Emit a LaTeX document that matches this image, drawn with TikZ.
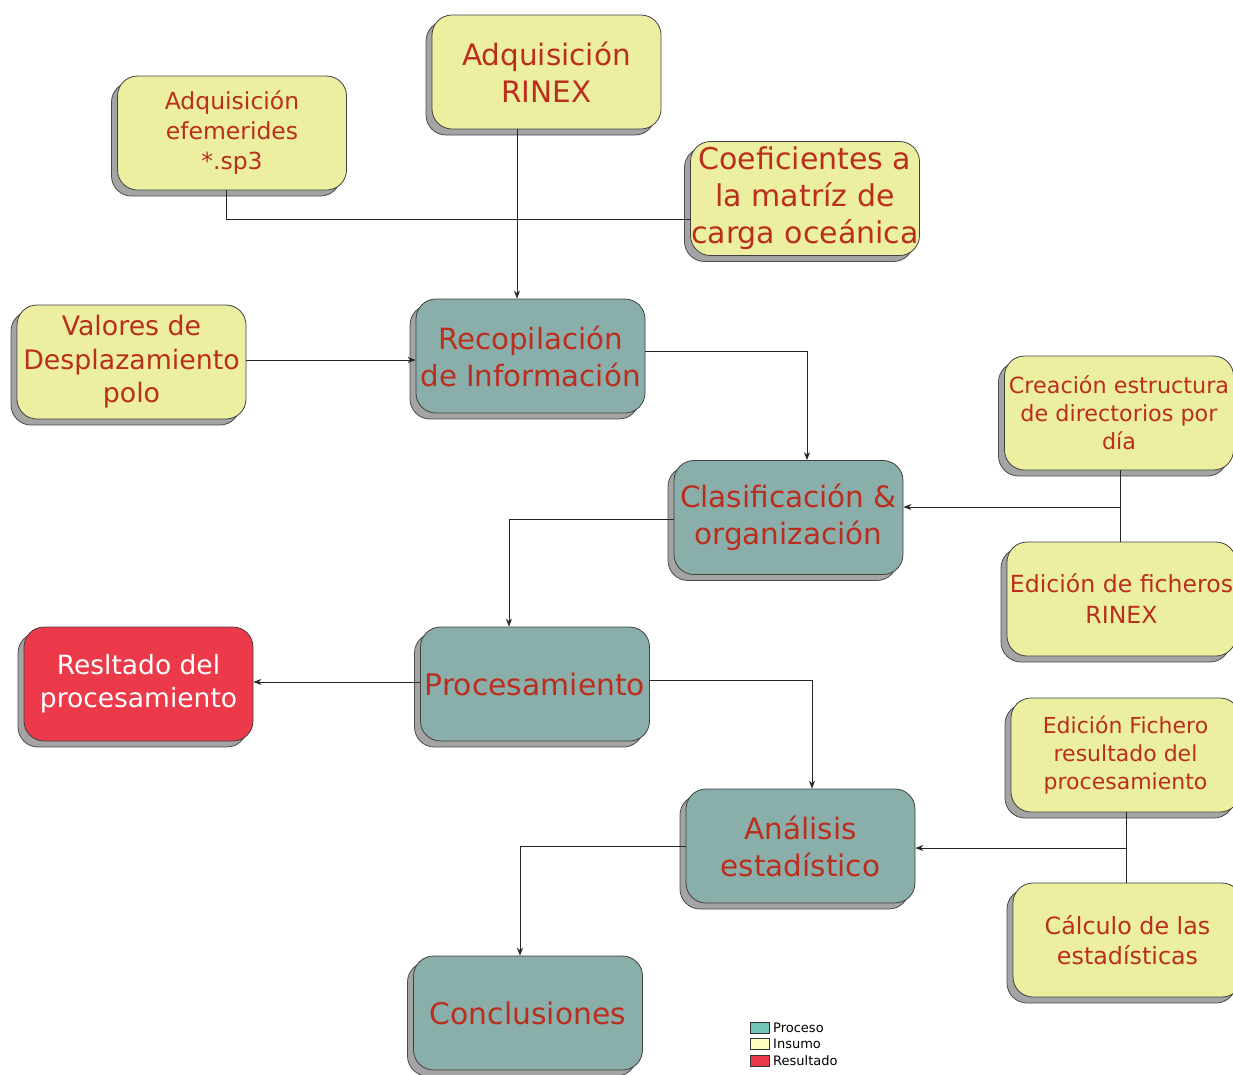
\documentclass[tikz,border=0pt]{standalone}
\usepackage{fontspec}
\setmainfont{DejaVu Sans}
\usetikzlibrary{shadows,arrows.meta}
\definecolor{insumo}{HTML}{ECEFA0}
\definecolor{proceso}{HTML}{8AAFAA}
\definecolor{resultado}{HTML}{EC3A4A}
\definecolor{txt}{HTML}{BA2E1E}
\definecolor{shadowgray}{HTML}{A4A4A4}
\definecolor{legproc}{HTML}{72C3B8}
\definecolor{legins}{HTML}{FFFFC2}
\begin{document}
\begin{tikzpicture}[x=1pt,y=-1pt,
  box/.style={rounded corners=20pt, draw=black!75, line width=0.8pt,
    minimum width=229pt, minimum height=114pt, inner sep=0pt, align=center,
    text=txt, copy shadow={shadow xshift=-6pt, shadow yshift=-6pt, fill=shadowgray, draw=black!70}},
  ins/.style={box, fill=insumo},
  proc/.style={box, fill=proceso},
  res/.style={box, fill=resultado, text=white},
  conn/.style={draw=black!85, line width=0.7pt},
  arr/.style={conn, -{Stealth[length=8pt,width=6pt]}},
  legbox/.style={draw=black!80, line width=0.6pt, minimum width=19pt, minimum height=11pt, inner sep=0pt},
  legtxt/.style={anchor=west, inner sep=0pt, font=\fontsize{13}{15}\selectfont}
]
\useasboundingbox (0,0) rectangle (1233,1074);

\node[ins, font=\fontsize{29.5}{37}\selectfont] (rinex) at (546.5,72) {Adquisición\\RINEX};
\node[ins, font=\fontsize{23.5}{30}\selectfont] (efem) at (232,133) {Adquisición\\efemerides\\*.sp3};
\node[ins, font=\fontsize{30}{37}\selectfont] (coef) at (805,198.5) {Coeficientes a\\la matríz de\\carga oceánica};
\node[ins, font=\fontsize{26.8}{33.5}\selectfont] (valores) at (131.5,362) {Valores de\\Desplazamiento\\polo};
\node[proc, font=\fontsize{29.3}{37}\selectfont] (recop) at (530.5,356) {Recopilación\\de Información};
\node[proc, font=\fontsize{29.5}{37}\selectfont] (clasif) at (788.5,517.5) {Clasificación \&\\organización};
\node[ins, font=\fontsize{22.3}{28}\selectfont] (creac) at (1119,413) {Creación estructura\\de directorios por\\día};
\node[ins, font=\fontsize{23.6}{31}\selectfont] (edric) at (1121.5,599) {Edición de ficheros\\RINEX};
\node[proc, font=\fontsize{29.8}{37}\selectfont] (procs) at (535,684) {Procesamiento};
\node[res, font=\fontsize{26.5}{33}\selectfont] (resl) at (138.5,684) {Resltado del\\procesamiento};
\node[ins, font=\fontsize{22}{28}\selectfont] (edfich) at (1125.5,755) {Edición Fichero\\resultado del\\procesamiento};
\node[proc, font=\fontsize{29.5}{37}\selectfont] (anal) at (800.5,846) {Análisis\\estadístico};
\node[ins, font=\fontsize{23.8}{30}\selectfont] (calc) at (1127.5,940) {Cálculo de las\\estadísticas};
\node[proc, font=\fontsize{29.8}{37}\selectfont] (concl) at (528,1013) {Conclusiones};

% connectors
\draw[arr] (rinex.south -| 517,0) -- (recop.north -| 517,0);
\draw[conn] (efem.south -| 226,0) |- (coef.west |- 0,219);
\draw[arr] (valores.east |- 0,360) -- (recop.west |- 0,360);
\draw[arr] (recop.east |- 0,351) -| (clasif.north -| 807,0);
\draw[conn] (creac.south -| 1120,0) -- (edric.north -| 1120,0);
\coordinate (j1) at (1120,507);
\draw[arr] (j1) -- (clasif.east |- j1);
\draw[arr] (clasif.west |- 0,519) -| (procs.north -| 509,0);
\draw[arr] (procs.west |- 0,682) -- (resl.east |- 0,682);
\draw[arr] (procs.east |- 0,680) -| (anal.north -| 812,0);
\draw[conn] (edfich.south -| 1126,0) -- (calc.north -| 1126,0);
\coordinate (j2) at (1126,848);
\draw[arr] (j2) -- (anal.east |- j2);
\draw[arr] (anal.west |- 0,846) -| (concl.north -| 520,0);

% legend
\node[legbox, fill=legproc] (lp) at (759.5,1027.5) {};
\node[legbox, fill=legins] (li) at (759.5,1044) {};
\node[legbox, fill=resultado] (lr) at (759.5,1060.5) {};
\node[legtxt] (lpt) at (773,1027.5) {Proceso};
\node[legtxt] (lit) at (773,1044) {Insumo};
\node[legtxt] (lrt) at (773,1060.5) {Resultado};
\end{tikzpicture}
\end{document}
